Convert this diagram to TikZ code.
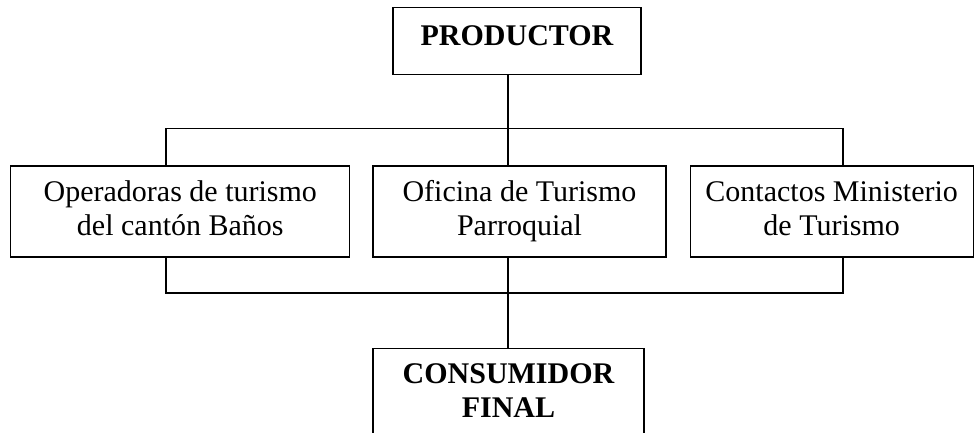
\documentclass[tikz,border=0pt]{standalone}
\usepackage{fontspec}
\setmainfont{Liberation Serif}
\usetikzlibrary{positioning}

\newcommand{\boxstrut}{\rule[-6.5pt]{0pt}{27.5pt}}

\begin{document}
\begin{tikzpicture}[x=1pt, y=-1pt, line width=1.2pt]

% Define block styles
\tikzstyle{agent} = [rectangle, draw=black, align=center, inner sep=0pt, minimum height=91pt, font=\fontsize{30}{34}\selectfont]
\tikzstyle{chief} = [rectangle, draw=black, inner sep=0pt, minimum height=67pt, minimum width=248pt, text depth=11pt, font=\fontsize{30}{34}\selectfont\bfseries]
\tikzstyle{link} = [draw=black]

\useasboundingbox (0,0) rectangle (977,433);
\clip (0,0) rectangle (977,433);

% Define nodes
\node (oficina) [agent, minimum width=293pt] at (519.5,211.5) {\boxstrut Oficina de Turismo\\Parroquial\boxstrut};
\node (opera) [agent, minimum width=339pt, left=22pt of oficina] {\boxstrut Operadoras de turismo\\del cantón Baños\boxstrut};
\node (contactos) [agent, minimum width=283pt, right=23pt of oficina] {\boxstrut Contactos Ministerio\\de Turismo\boxstrut};
\node (prod) [chief, above=90pt of oficina, xshift=-2.5pt] {PRODUCTOR};
\node (consum) [agent, minimum width=271pt, below=90pt of oficina, xshift=-11pt, font=\fontsize{30}{34}\selectfont\bfseries] {\boxstrut CONSUMIDOR\\FINAL\boxstrut};

% Bus points
\coordinate (busup) at (508,128.5);
\coordinate (dropL) at (166,128.5);
\coordinate (dropR) at (843,128.5);
\coordinate (busdown) at (508,293);
\coordinate (joinL) at (166,293);
\coordinate (joinR) at (843,293);

% Draw connectors
\draw [link] (prod.south -| busup) -- (busup);
\draw [link] (dropL) -- (dropR);
\draw [link] (dropL) -- (dropL |- opera.north);
\draw [link] (busup) -- (busup |- oficina.north);
\draw [link] (dropR) -- (dropR |- contactos.north);
\draw [link] (opera.south -| joinL) -- (joinL) -- (joinR) -- (contactos.south -| joinR);
\draw [link] (oficina.south -| busdown) -- (busdown |- consum.north);

\end{tikzpicture}
\end{document}
